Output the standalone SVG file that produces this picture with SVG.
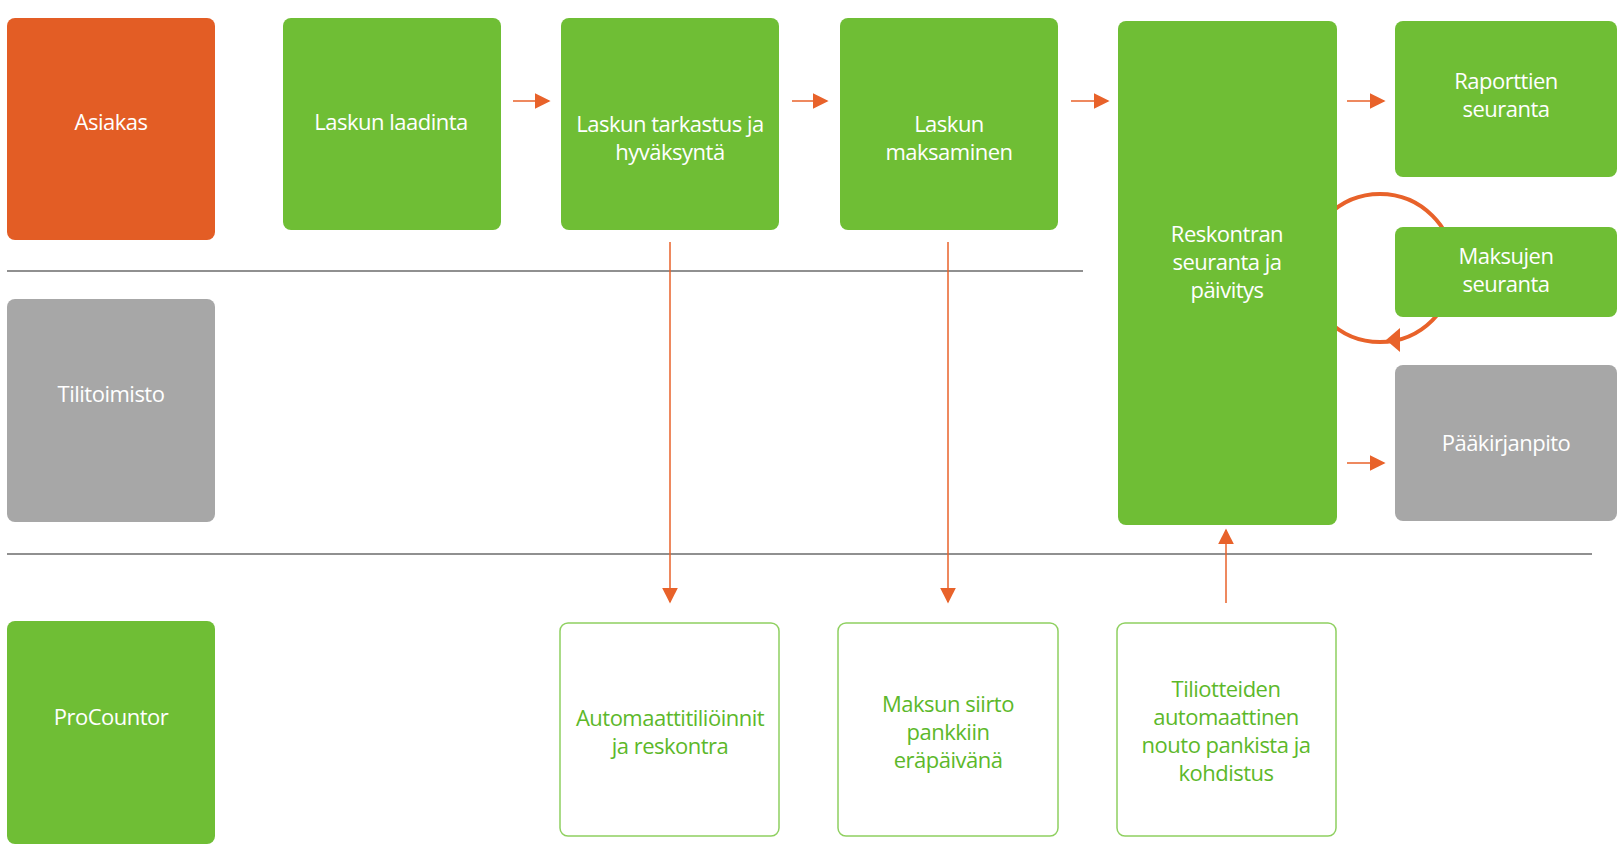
<svg xmlns="http://www.w3.org/2000/svg" width="1621" height="847" viewBox="0 0 1621 847">
<defs>
<style>
.g{fill:#6fbe35}.o{fill:#e35d25}.gr{fill:#a7a7a7}.w{fill:#fff;stroke:#8fd060;stroke-width:1.5}
text{font-family:"Open Sans","Liberation Sans",sans-serif;font-size:22px;text-anchor:middle;fill:#fff;letter-spacing:-0.5px}
.gt{fill:#5cb82a}
.c{stroke:#e8622a;stroke-width:1.5;fill:none}
</style>
<marker id="a" viewBox="0 0 10 10" refX="9" refY="5" markerWidth="16" markerHeight="16" markerUnits="userSpaceOnUse" orient="auto"><path d="M0,0L10,5L0,10z" fill="#e8622a"/></marker>
</defs>
<g id="lines" stroke="#222" stroke-width="1.2"><line x1="7" y1="271" x2="1083" y2="271"/><line x1="7" y1="554" x2="1592" y2="554"/></g>
<g id="connectors">
<circle cx="1380" cy="268" r="74" stroke="#e8622a" stroke-width="4" fill="none"/>
<path d="M1400,328 L1386,340 L1400,352z" fill="#e8622a"/>
<line class="c" x1="513" y1="101" x2="549" y2="101" marker-end="url(#a)"/>
<line class="c" x1="792" y1="101" x2="827" y2="101" marker-end="url(#a)"/>
<line class="c" x1="1071" y1="101" x2="1108" y2="101" marker-end="url(#a)"/>
<line class="c" x1="1347" y1="101" x2="1384" y2="101" marker-end="url(#a)"/>
<line class="c" x1="1347" y1="463" x2="1384" y2="463" marker-end="url(#a)"/>
<line class="c" x1="670" y1="242" x2="670" y2="602" marker-end="url(#a)"/>
<line class="c" x1="948" y1="242" x2="948" y2="602" marker-end="url(#a)"/>
<line class="c" x1="1226" y1="603" x2="1226" y2="530" marker-end="url(#a)"/>
</g>
<g id="asiakas"><rect class="o" x="7" y="18" width="208" height="222" rx="8"/><text x="111" y="130">Asiakas</text></g>
<g id="tilitoimisto"><rect class="gr" x="7" y="299" width="208" height="223" rx="8"/><text x="111" y="402">Tilitoimisto</text></g>
<g id="procountor"><rect class="g" x="7" y="621" width="208" height="223" rx="8"/><text x="111" y="725">ProCountor</text></g>
<g id="laadinta"><rect class="g" x="283" y="18" width="218" height="212" rx="8"/><text x="391" y="130">Laskun laadinta</text></g>
<g id="tarkastus"><rect class="g" x="561" y="18" width="218" height="212" rx="8"/><text x="670" y="132">Laskun tarkastus ja</text><text x="670" y="160">hyväksyntä</text></g>
<g id="maksaminen"><rect class="g" x="840" y="18" width="218" height="212" rx="8"/><text x="949" y="132">Laskun</text><text x="949" y="160">maksaminen</text></g>
<g id="reskontra"><rect class="g" x="1118" y="21" width="219" height="504" rx="8"/><text x="1227" y="242">Reskontran</text><text x="1227" y="270">seuranta ja</text><text x="1227" y="298">päivitys</text></g>
<g id="raporttien"><rect class="g" x="1395" y="21" width="222" height="156" rx="8"/><text x="1506" y="89">Raporttien</text><text x="1506" y="117">seuranta</text></g>
<g id="maksujen"><rect class="g" x="1395" y="227" width="222" height="90" rx="8"/><text x="1506" y="264">Maksujen</text><text x="1506" y="292">seuranta</text></g>
<g id="paakirjanpito"><rect class="gr" x="1395" y="365" width="222" height="156" rx="8"/><text x="1506" y="451">Pääkirjanpito</text></g>
<g id="automaatti"><rect class="w" x="560" y="623" width="219" height="213" rx="8"/><text class="gt" x="670" y="726">Automaattitiliöinnit</text><text class="gt" x="670" y="754">ja  reskontra</text></g>
<g id="siirto"><rect class="w" x="838" y="623" width="220" height="213" rx="8"/><text class="gt" x="948" y="712">Maksun siirto</text><text class="gt" x="948" y="740">pankkiin</text><text class="gt" x="948" y="768">eräpäivänä</text></g>
<g id="tiliotteet"><rect class="w" x="1117" y="623" width="219" height="213" rx="8"/><text class="gt" x="1226" y="697">Tiliotteiden</text><text class="gt" x="1226" y="725">automaattinen</text><text class="gt" x="1226" y="753">nouto pankista ja</text><text class="gt" x="1226" y="781">kohdistus</text></g>
</svg>
